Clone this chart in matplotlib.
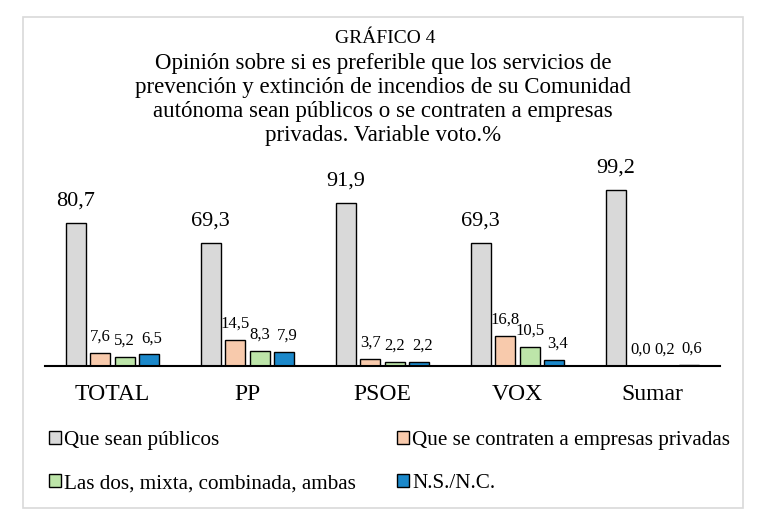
import matplotlib
matplotlib.use("Agg")
import matplotlib.pyplot as plt
import numpy as np
from matplotlib.patches import Patch, Rectangle

plt.rcParams['font.family'] = ['Liberation Serif', 'DejaVu Serif']

categories = ["TOTAL", "PP", "PSOE", "VOX", "Sumar"]
series_names = ["Que sean públicos", "Que se contraten a empresas privadas",
                "Las dos, mixta, combinada, ambas", "N.S./N.C."]
publicos = [80.7, 69.3, 91.9, 69.3, 99.2]
privadas = [7.6, 14.5, 3.7, 16.8, 0.0]
mixta = [5.2, 8.3, 2.2, 10.5, 0.2]
nsnc = [6.5, 7.9, 2.2, 3.4, 0.6]
colors = ["#d9d9d9", "#f8caac", "#bde5a9", "#1b88ca"]

title_top = "GRÁFICO 4"
title_lines = ["Opinión sobre si es preferible que los servicios de",
               "prevención y extinción de incendios de su Comunidad",
               "autónoma sean públicos o se contraten a empresas",
               "privadas. Variable voto.%"]

W, H = 765, 522
fig = plt.figure(figsize=(W/100, H/100), dpi=100)
fig.patches.append(Rectangle((23/W, 1-508/H), (743-23)/W, (508-17)/H,
                             transform=fig.transFigure, fill=False,
                             edgecolor="#d9d9d9", linewidth=1.2))

ax = fig.add_axes([45/W, 1-366/H, 675/W, 177/H])
ax.set_xlim(-0.5, len(categories)-0.5)
ax.set_ylim(0, 100)

x = np.arange(len(categories))
pitch = 0.182
bw = 0.15
all_series = [publicos, privadas, mixta, nsnc]
for i, (vals, col) in enumerate(zip(all_series, colors)):
    pos = x + (i-1.5)*pitch
    ax.bar(pos, vals, bw, color=col, edgecolor="black", linewidth=1.0, zorder=2)
    for p, v in zip(pos, vals):
        lab = f"{v:.1f}".replace(".", ",")
        if i == 0:
            ax.annotate(lab, (p, v), xytext=(0, 9), textcoords="offset points",
                        ha="center", va="bottom", fontsize=16, annotation_clip=False)
        else:
            dx = 2 if i == 3 else 0
            ax.annotate(lab, (p, v), xytext=(dx, 6), textcoords="offset points",
                        ha="center", va="bottom", fontsize=12, annotation_clip=False)

for s in ["top", "left", "right"]:
    ax.spines[s].set_visible(False)
ax.spines["bottom"].set_linewidth(1.5)
ax.set_yticks([])
ax.set_xticks(x)
ax.set_xticklabels(categories, fontsize=17)
ax.tick_params(axis="x", length=0, pad=13)

fig.text(385/W, 1-43/H, title_top, ha="center", va="baseline", fontsize=14)
for k, line in enumerate(title_lines):
    fig.text(383/W, 1-(69+24*k)/H, line, ha="center", va="baseline", fontsize=16.5)

handles = [Patch(facecolor=c, edgecolor="black", linewidth=1.0) for c in colors]
order = [0, 2, 1, 3]
fig.legend([handles[k] for k in order], [series_names[k] for k in order],
           ncol=2, loc="upper left", bbox_to_anchor=(49/W, 1-500/H, 681/W, 69/H),
           bbox_transform=fig.transFigure,
           mode="expand", frameon=False, fontsize=15.2, handlelength=0.55,
           handleheight=0.55, handletextpad=0.15, labelspacing=1.15,
           borderaxespad=0, borderpad=0)

fig.savefig("out.png", dpi=100)
